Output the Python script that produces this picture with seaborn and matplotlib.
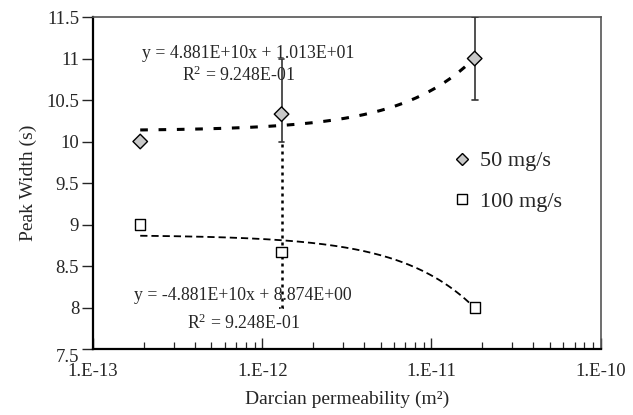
import numpy as np
import pandas as pd
import matplotlib
matplotlib.use("Agg")
import matplotlib.pyplot as plt
import seaborn as sns
from matplotlib.ticker import LogLocator, FixedLocator, NullLocator
from matplotlib.lines import Line2D

# ---- data ----
perm = [1.9e-13, 1.3e-12, 1.8e-11]
width_50 = [10.0, 10.33, 11.0]
width_100 = [9.0, 8.67, 8.0]
series_labels = ["50 mg/s", "100 mg/s"]

# error bars (low, high) for 50 mg/s (solid) and dotted bar
err50_x = [1.3e-12, 1.8e-11]
err50_low = [10.0, 10.5]
err50_high = [11.0, 11.5]
errdot_x = [1.3e-12]
errdot_low = [8.0]
errdot_high = [10.0]

# trendline equations (from annotations)
slope_50, icpt_50 = 4.881e10, 10.13
slope_100, icpt_100 = -4.881e10, 8.874
eq_50 = ["y = 4.881E+10x + 1.013E+01", "R$^2$ = 9.248E-01"]
eq_100 = ["y = -4.881E+10x + 8.874E+00", "R$^2$ = 9.248E-01"]

xticks = [1e-13, 1e-12, 1e-11, 1e-10]
xtick_labels = ["1.E-13", "1.E-12", "1.E-11", "1.E-10"]
yticks = [7.5, 8, 8.5, 9, 9.5, 10, 10.5, 11, 11.5]
ytick_labels = ["7.5", "8", "8.5", "9", "9.5", "10", "10.5", "11", "11.5"]

sns.set_style("white")
plt.rcParams["font.family"] = ["Liberation Serif", "DejaVu Serif"]
plt.rcParams["mathtext.fontset"] = "custom"
plt.rcParams["mathtext.rm"] = "Liberation Serif"
plt.rcParams["mathtext.it"] = "Liberation Serif"

fig = plt.figure(figsize=(6.33, 4.15), dpi=100)
ax = fig.add_axes([0.147, 0.159, 0.802, 0.800])

df = pd.DataFrame({
    "perm": perm * 2,
    "width": width_50 + width_100,
    "series": [series_labels[0]] * 3 + [series_labels[1]] * 3,
})

# trend lines
xs = np.logspace(np.log10(perm[0]), np.log10(perm[-1]), 200)
tl = pd.DataFrame({"x": xs, "y50": slope_50 * xs + icpt_50, "y100": slope_100 * xs + icpt_100})
sns.lineplot(data=tl, x="x", y="y50", ax=ax, color="black", lw=2.2, zorder=2)
ax.lines[-1].set_dashes([2.5, 3.5])
sns.lineplot(data=tl, x="x", y="y100", ax=ax, color="black", lw=1.3, zorder=2)
ax.lines[-1].set_dashes([4, 2.2])

# error bars
ax.vlines(errdot_x, errdot_low, errdot_high, colors="black", lw=1.8,
          linestyles=(0, (1.2, 1.6)), zorder=1)
for x, lo in zip(errdot_x, errdot_low):
    ax.plot([x / 1.04, x * 1.04], [lo, lo], color="black", lw=1.2, ls=(0, (1, 1.5)))
ax.vlines(err50_x, err50_low, err50_high, colors="#333333", lw=1.2, zorder=3)
for x, lo, hi in zip(err50_x, err50_low, err50_high):
    ax.plot([x / 1.04, x * 1.04], [lo, lo], color="#333333", lw=1.2, zorder=3)
    ax.plot([x / 1.04, x * 1.04], [hi, hi], color="#333333", lw=1.2, zorder=3)

sns.scatterplot(data=df, x="perm", y="width", hue="series", style="series",
                markers={series_labels[0]: "D", series_labels[1]: "s"},
                palette={series_labels[0]: "#c8c8c8", series_labels[1]: "white"},
                ax=ax, legend=False, zorder=4)
ax.collections[-1].set_sizes([55])
ax.collections[-1].set_edgecolor("black")
ax.collections[-1].set_linewidth(1.0)

ax.set_xscale("log")
ax.set_xlim(1e-13, 1e-10)
ax.set_ylim(7.5, 11.5)

ax.xaxis.set_major_locator(FixedLocator(xticks))
ax.set_xticklabels(xtick_labels)
ax.xaxis.set_minor_locator(LogLocator(base=10, subs=np.arange(2, 10), numticks=20))
ax.yaxis.set_major_locator(FixedLocator(yticks))
ax.set_yticklabels(ytick_labels)
ax.yaxis.set_minor_locator(NullLocator())

ax.tick_params(axis="x", which="major", direction="in", length=8, width=1.0,
               labelsize=13.5, pad=10, bottom=True)
ax.tick_params(axis="x", which="minor", direction="in", length=5, width=0.9, bottom=True)
ax.tick_params(axis="y", which="major", direction="out", length=8, width=1.0,
               labelsize=13.5, pad=2, left=True)
for lab in ax.get_yticklabels():
    if lab.get_text() == "7.5":
        lab.set_verticalalignment("top")

ax.set_xlabel("Darcian permeability (m²)", fontsize=14, labelpad=8)
ax.set_ylabel("Peak Width (s)", fontsize=14, labelpad=7)

for side in ["left", "bottom"]:
    ax.spines[side].set_color("black")
    ax.spines[side].set_linewidth(1.6)
for side in ["top", "right"]:
    ax.spines[side].set_color("#555555")
    ax.spines[side].set_linewidth(1.2)

# annotations
ax.text(8.2e-13, 11.06, eq_50[0], fontsize=12.8, ha="center", va="center")
ax.text(7.2e-13, 10.80, eq_50[1], fontsize=12.8, ha="center", va="center")
ax.text(7.7e-13, 8.14, eq_100[0], fontsize=12.8, ha="center", va="center")
ax.text(7.7e-13, 7.81, eq_100[1], fontsize=12.8, ha="center", va="center")

# legend
handles = [
    Line2D([], [], ls="none", marker="D", ms=6, mfc="#c8c8c8", mec="black", mew=1.0),
    Line2D([], [], ls="none", marker="s", ms=7.5, mfc="white", mec="black", mew=1.0),
]
ax.legend(handles, series_labels, loc="center left", bbox_to_anchor=(0.665, 0.505),
          frameon=False, fontsize=16, handletextpad=0.3, labelspacing=0.9,
          handlelength=1.0)

fig.savefig("out.png", dpi=100)
